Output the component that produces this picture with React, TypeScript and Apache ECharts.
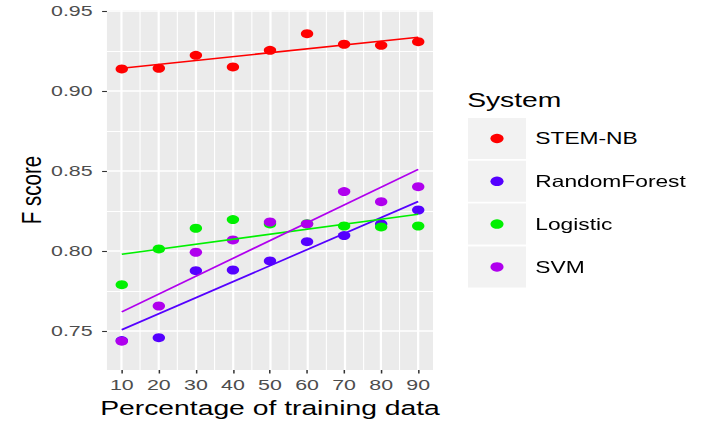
import React, { useEffect, useRef } from "react";
import * as echarts from "echarts";

// ---- data ----
const trainingPct = [10, 20, 30, 40, 50, 60, 70, 80, 90];
const stemNB = [0.9138, 0.9142, 0.9223, 0.915, 0.9254, 0.9358, 0.9292, 0.9285, 0.9308];
const randomForest = [0.744, 0.7458, 0.7877, 0.7881, 0.7938, 0.8058, 0.8096, 0.8169, 0.8256];
const logistic = [0.7789, 0.8013, 0.8142, 0.8196, 0.8169, 0.817, 0.8156, 0.815, 0.8156];
const svm = [0.7436, 0.7656, 0.7992, 0.8069, 0.8181, 0.8169, 0.8371, 0.8308, 0.8402];

const systemNames = ["STEM-NB", "RandomForest", "Logistic", "SVM"];
const systemColors = ["#ff0000", "#5500ff", "#00f000", "#b000ee"];

const xMajorTicks = [10, 20, 30, 40, 50, 60, 70, 80, 90];
const xMinorTicks = [15, 25, 35, 45, 55, 65, 75, 85];
const yMajorTicks = [0.75, 0.8, 0.85, 0.9, 0.95];
const yMinorTicks = [0.775, 0.825, 0.875, 0.925];
const X_MIN = 6;
const X_MAX = 94;
const Y_MIN = 0.7256;
const Y_MAX = 0.9506;

// ---- layout (picture is stretched horizontally) ----
const STRETCH = 1.38;
const PAGE_W = 712;
const PAGE_H = 421;
const CHART_W = PAGE_W / STRETCH;
const FONT = "'Liberation Sans', Arial, Helvetica, sans-serif";

function linFit(xs: number[], ys: number[]) {
  const n = xs.length;
  const mx = xs.reduce((a, b) => a + b, 0) / n;
  const my = ys.reduce((a, b) => a + b, 0) / n;
  let sxy = 0;
  let sxx = 0;
  for (let i = 0; i < n; i++) {
    sxy += (xs[i] - mx) * (ys[i] - my);
    sxx += (xs[i] - mx) * (xs[i] - mx);
  }
  const b = sxy / sxx;
  const a = my - b * mx;
  return (x: number) => a + b * x;
}

export default function App() {
  const ref = useRef<HTMLDivElement>(null);

  useEffect(() => {
    if (!ref.current) return;
    const chart = echarts.init(ref.current, undefined, {
      renderer: "svg",
      width: CHART_W,
      height: PAGE_H,
    });

    const allSeries = [stemNB, randomForest, logistic, svm];
    const xLo = Math.min(...trainingPct);
    const xHi = Math.max(...trainingPct);

    const scatterSeries = allSeries.map((vals, i) => ({
      type: "scatter",
      name: systemNames[i],
      data: trainingPct.map((x, j) => [x, vals[j]]),
      symbol: "circle",
      symbolSize: 9,
      itemStyle: { color: systemColors[i], opacity: 1 },
      z: 3,
      silent: true,
    }));

    const fitSeries = allSeries.map((vals, i) => {
      const f = linFit(trainingPct, vals);
      return {
        type: "line",
        name: systemNames[i] + " fit",
        data: [
          [xLo, f(xLo)],
          [xHi, f(xHi)],
        ],
        showSymbol: false,
        symbol: "none",
        lineStyle: { color: systemColors[i], width: 1.6 },
        z: 4,
        silent: true,
      };
    });

    const keyTop = 118;
    const keyPitch = 42.8;
    const keyGraphics = systemNames.map((_, i) => ({
      type: "rect",
      shape: { x: 339.1, y: keyTop + i * keyPitch, width: 42.1, height: 41 },
      style: { fill: "#f2f2f2" },
      z: 0,
      silent: true,
    }));

    chart.setOption({
      animation: false,
      backgroundColor: "#ffffff",
      textStyle: { fontFamily: FONT },
      title: {
        text: "System",
        left: 338.5,
        top: 89,
        padding: 0,
        textStyle: { fontSize: 20.5, fontWeight: "normal", color: "#000", fontFamily: FONT },
      },
      grid: {
        left: 77.5,
        top: 10,
        width: 236.3,
        height: 360,
        show: true,
        backgroundColor: "#ebebeb",
        borderWidth: 0,
        outerBoundsMode: "none",
      },
      legend: {
        data: systemNames,
        orient: "vertical",
        left: 355.4,
        top: keyTop,
        padding: 0,
        itemGap: keyPitch - 41,
        itemWidth: 9.5,
        itemHeight: 9.5,
        icon: "circle",
        selectedMode: false,
        textStyle: {
          fontSize: 16.5,
          color: "#000",
          lineHeight: 41,
          padding: [0, 0, 0, 18],
          fontFamily: FONT,
        },
      },
      graphic: keyGraphics,
      xAxis: [
        {
          type: "value",
          min: X_MIN,
          max: X_MAX,
          axisLine: { show: false },
          axisTick: {
            show: true,
            length: 3.5,
            customValues: xMajorTicks,
            lineStyle: { color: "#333333", width: 1.1 },
          },
          axisLabel: {
            customValues: xMajorTicks,
            color: "#4d4d4d",
            fontSize: 15.5,
            margin: 7,
            fontFamily: FONT,
          },
          splitLine: { show: true, lineStyle: { color: "#ffffff", width: 1.6 } },
          name: "Percentage of training data",
          nameLocation: "middle",
          nameGap: 25,
          nameTextStyle: { fontSize: 20.5, color: "#000", fontFamily: FONT },
        },
        {
          type: "value",
          min: X_MIN,
          max: X_MAX,
          axisLine: { show: false },
          axisTick: { show: false, customValues: xMinorTicks },
          axisLabel: { show: false, customValues: xMinorTicks },
          splitLine: { show: true, lineStyle: { color: "#ffffff", width: 0.8 } },
        },
      ],
      yAxis: [
        {
          type: "value",
          min: Y_MIN,
          max: Y_MAX,
          axisLine: { show: false },
          axisTick: {
            show: true,
            length: 3.5,
            customValues: yMajorTicks,
            lineStyle: { color: "#333333", width: 1.1 },
          },
          axisLabel: {
            customValues: yMajorTicks,
            formatter: (v: number) => v.toFixed(2),
            color: "#4d4d4d",
            fontSize: 15.5,
            margin: 10.4,
            fontFamily: FONT,
          },
          splitLine: { show: true, lineStyle: { color: "#ffffff", width: 1.6 } },
          name: "F score",
          nameLocation: "middle",
          nameGap: 41,
          nameTextStyle: { fontSize: 20.5, color: "#000", fontFamily: FONT },
        },
        {
          type: "value",
          min: Y_MIN,
          max: Y_MAX,
          axisLine: { show: false },
          axisTick: { show: false, customValues: yMinorTicks },
          axisLabel: { show: false, customValues: yMinorTicks },
          splitLine: { show: true, lineStyle: { color: "#ffffff", width: 0.8 } },
        },
      ],
      series: [...scatterSeries, ...fitSeries],
    });

    return () => chart.dispose();
  }, []);

  return (
    <div
      ref={ref}
      style={{
        position: "fixed",
        left: 0,
        top: 0,
        width: CHART_W,
        height: PAGE_H,
        transform: `scaleX(${STRETCH})`,
        transformOrigin: "0 0",
      }}
    />
  );
}
